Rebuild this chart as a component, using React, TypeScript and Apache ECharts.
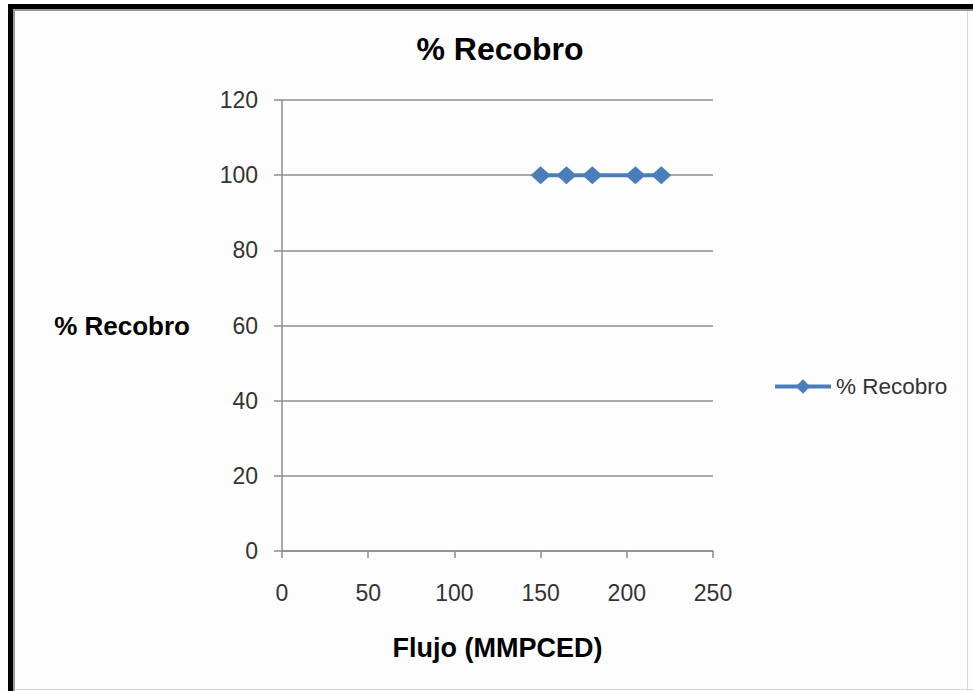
import React, { useEffect, useRef } from "react";
import * as echarts from "echarts";

const flujo = [150, 165, 180, 205, 220];
const recobro = [100, 100, 100, 100, 100];
const seriesName = "% Recobro";
const chartTitle = "% Recobro";
const xAxisTitle = "Flujo (MMPCED)";
const yAxisTitle = "% Recobro";

export default function App() {
  const ref = useRef<HTMLDivElement>(null);
  useEffect(() => {
    document.body.style.margin = "0";
    const chart = echarts.init(ref.current!, null, { renderer: "svg" });
    const labelFont = "'Liberation Sans', Arial, sans-serif";
    chart.setOption({
      animation: false,
      backgroundColor: "#fdfdfd",
      title: {
        text: chartTitle,
        left: 495,
        top: 28,
        textAlign: "center",
        textStyle: { fontFamily: labelFont, fontWeight: "bold", fontSize: 32, color: "#000" },
      },
      legend: {
        left: 768,
        top: 370,
        itemWidth: 56,
        itemHeight: 18,
        itemGap: 10,
        lineStyle: { width: 4 },
        textStyle: { fontFamily: labelFont, fontSize: 22.5, color: "#333" },
        data: [seriesName],
      },
      grid: { left: 282, right: 260, top: 100, bottom: 140 },
      xAxis: {
        type: "value",
        min: 0,
        max: 250,
        interval: 50,
        name: xAxisTitle,
        nameLocation: "middle",
        nameGap: 83,
        nameTextStyle: { fontFamily: labelFont, fontWeight: "bold", fontSize: 27, color: "#000" },
        axisLine: { show: true, lineStyle: { color: "#8c8c8c", width: 1.5 } },
        axisTick: { show: true, length: 7, lineStyle: { color: "#8c8c8c", width: 1.5 } },
        axisLabel: { margin: 30, fontFamily: labelFont, fontSize: 23, color: "#333" },
        splitLine: { show: false },
      },
      yAxis: {
        type: "value",
        min: 0,
        max: 120,
        interval: 20,
        name: yAxisTitle,
        nameLocation: "middle",
        nameRotate: 0,
        nameGap: 92,
        nameTextStyle: { fontFamily: labelFont, fontWeight: "bold", fontSize: 26, color: "#000" },
        axisLine: { show: true, lineStyle: { color: "#8c8c8c", width: 1.5 } },
        axisTick: { show: true, length: 8, lineStyle: { color: "#8c8c8c", width: 1.5 } },
        axisLabel: { margin: 24, fontFamily: labelFont, fontSize: 23, color: "#333" },
        splitLine: { show: true, lineStyle: { color: "#8c8c8c", width: 1.5 } },
      },
      series: [
        {
          name: seriesName,
          type: "line",
          data: flujo.map((x, i) => [x, recobro[i]]),
          symbol: "diamond",
          symbolSize: [20, 18],
          lineStyle: { color: "#4a7ebb", width: 4 },
          itemStyle: { color: "#4a7ebb" },
        },
      ],
      graphic: [
        { type: "rect", shape: { x: 8, y: 4, width: 965, height: 5 }, style: { fill: "#000" } },
        { type: "rect", shape: { x: 8, y: 4, width: 5, height: 687 }, style: { fill: "#000" } },
        { type: "rect", shape: { x: 13, y: 9, width: 960, height: 2 }, style: { fill: "#9a9a9a" } },
        { type: "rect", shape: { x: 13, y: 9, width: 2, height: 682 }, style: { fill: "#9a9a9a" } },
        { type: "rect", shape: { x: 967, y: 11, width: 1, height: 678 }, style: { fill: "#d8d8d8" } },
        { type: "rect", shape: { x: 15, y: 689, width: 958, height: 1 }, style: { fill: "#d8d8d8" } },
      ],
    });
    return () => chart.dispose();
  }, []);
  return <div ref={ref} style={{ width: 973, height: 691 }} />;
}
